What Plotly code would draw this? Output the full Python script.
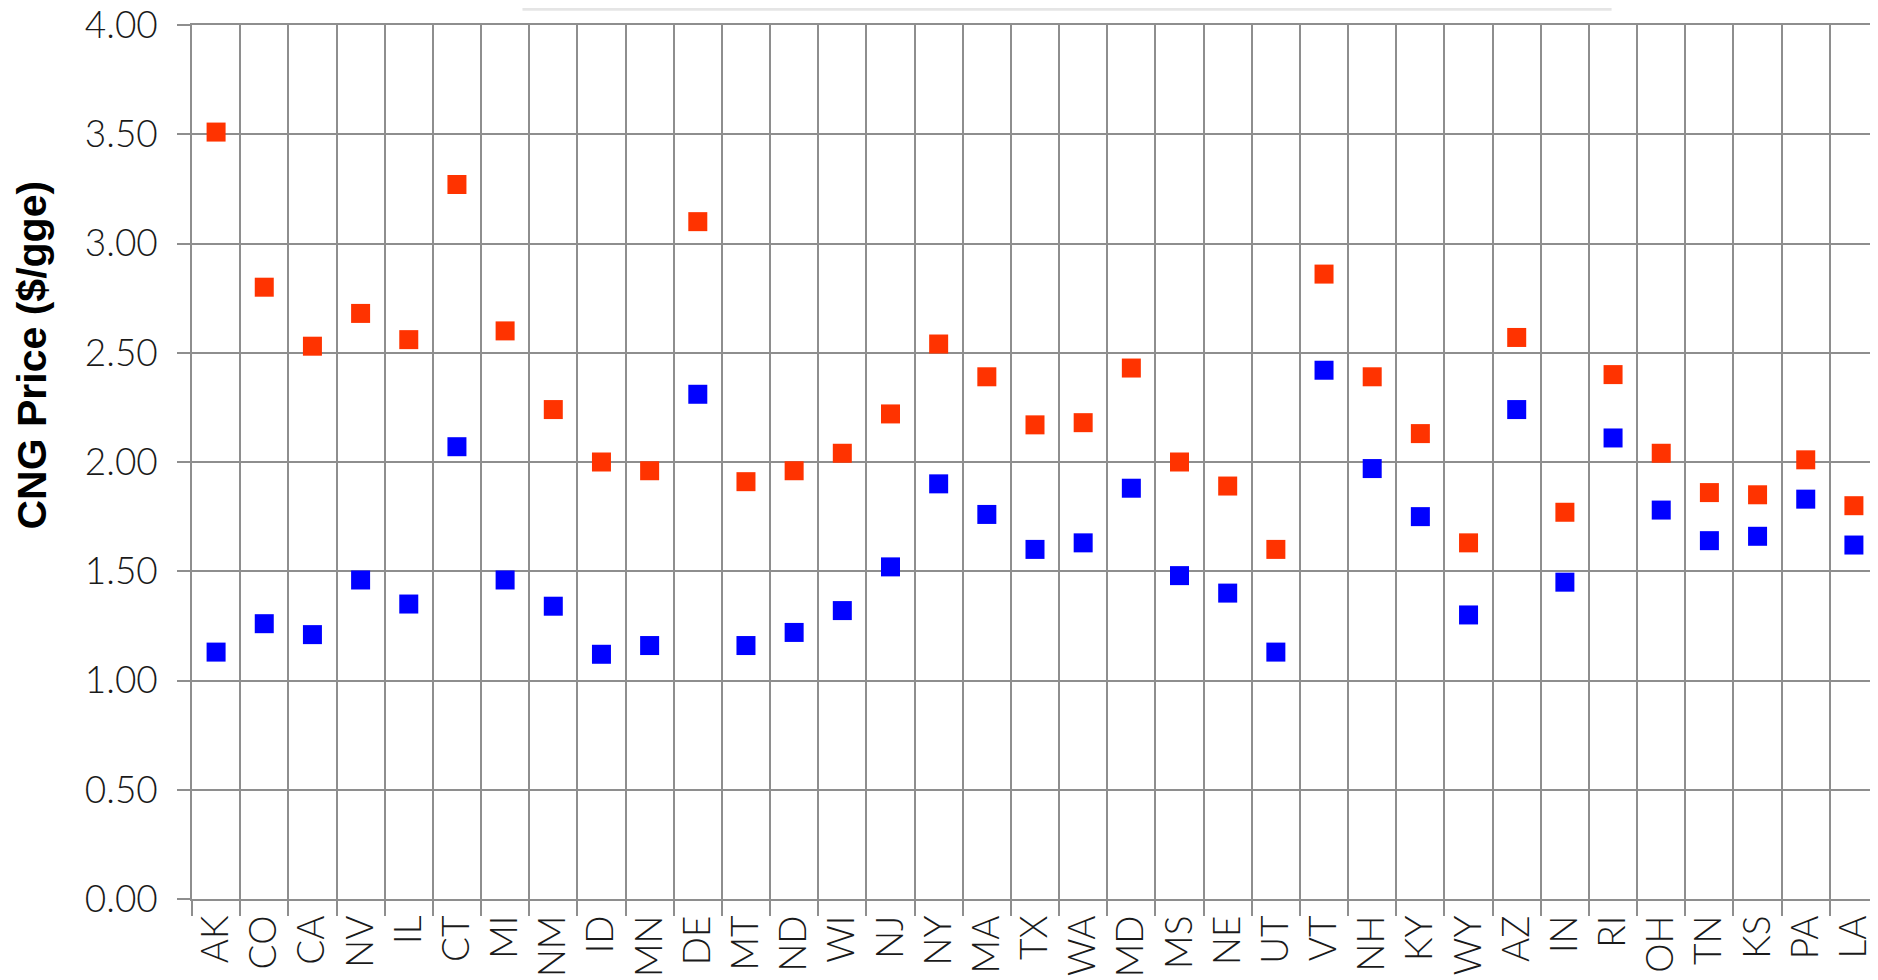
import plotly.graph_objects as go

# states along the x axis
states = ["AK", "CO", "CA", "NV", "IL", "CT", "MI", "NM", "ID", "MN", "DE", "MT",
          "ND", "WI", "NJ", "NY", "MA", "TX", "WA", "MD", "MS", "NE", "UT", "VT",
          "NH", "KY", "WY", "AZ", "IN", "RI", "OH", "TN", "KS", "PA", "LA"]

# CNG price ($/gge), upper (red) and lower (blue) values per state
high_price = [3.51, 2.80, 2.53, 2.68, 2.56, 3.27, 2.60, 2.24, 2.00, 1.96, 3.10, 1.91,
              1.96, 2.04, 2.22, 2.54, 2.39, 2.17, 2.18, 2.43, 2.00, 1.89, 1.60, 2.86,
              2.39, 2.13, 1.63, 2.57, 1.77, 2.40, 2.04, 1.86, 1.85, 2.01, 1.80]
low_price = [1.13, 1.26, 1.21, 1.46, 1.35, 2.07, 1.46, 1.34, 1.12, 1.16, 2.31, 1.16,
             1.22, 1.32, 1.52, 1.90, 1.76, 1.60, 1.63, 1.88, 1.48, 1.40, 1.13, 2.42,
             1.97, 1.75, 1.30, 2.24, 1.45, 2.11, 1.78, 1.64, 1.66, 1.83, 1.62]

y_ticks = [0, 0.5, 1, 1.5, 2, 2.5, 3, 3.5, 4]

grid = "#8e8e8e"
tick_font = dict(family="Lato", size=37, color="#1a1a1a", weight=300)

fig = go.Figure()

fig.add_trace(go.Scatter(
    x=states, y=high_price, name="High",
    mode="markers",
    marker=dict(symbol="square", size=19, color="#ff3300"),
))
fig.add_trace(go.Scatter(
    x=states, y=low_price, name="Low",
    mode="markers",
    marker=dict(symbol="square", size=19, color="#0000ff"),
))

fig.update_layout(
    width=1870, height=972,
    margin=dict(l=184, r=0, t=17, b=81),
    plot_bgcolor="white",
    paper_bgcolor="white",
    showlegend=False,
    xaxis=dict(
        type="category",
        tickson="boundaries",
        ticks="outside", ticklen=15, tickcolor=grid, tickwidth=1.5,
        showgrid=True, gridcolor=grid, gridwidth=1.5,
        showline=True, linecolor=grid, linewidth=1.5, mirror=True,
        tickangle=-90,
        tickfont=tick_font,
        range=[-0.5, len(states) - 0.5],
        automargin=False,
    ),
    yaxis=dict(
        range=[0, 4],
        tickvals=y_ticks,
        tickformat=".2f",
        ticks="outside", ticklen=13, tickcolor=grid, tickwidth=1.5,
        showgrid=True, gridcolor=grid, gridwidth=1.5,
        zeroline=False,
        showline=True, linecolor=grid, linewidth=1.5,
        tickfont=tick_font,
        ticklabeloverflow="allow",
        ticklabelstandoff=12,
        automargin=False,
    ),
    annotations=[dict(
        text="<b>CNG Price ($/gge)</b>",
        xref="paper", yref="paper",
        x=-0.0949, y=0.623,
        xanchor="center", yanchor="middle",
        textangle=-90, showarrow=False,
        font=dict(family="Liberation Sans", size=41, color="black"),
    )],
    # bottom edge of the legend box that sits above the visible area
    shapes=[dict(
        type="line", xref="paper", yref="paper",
        x0=0.196, x1=0.842, y0=1.018, y1=1.018,
        line=dict(color="rgba(0,0,0,0.10)", width=3),
    )],
)

fig.write_html("out.html")
